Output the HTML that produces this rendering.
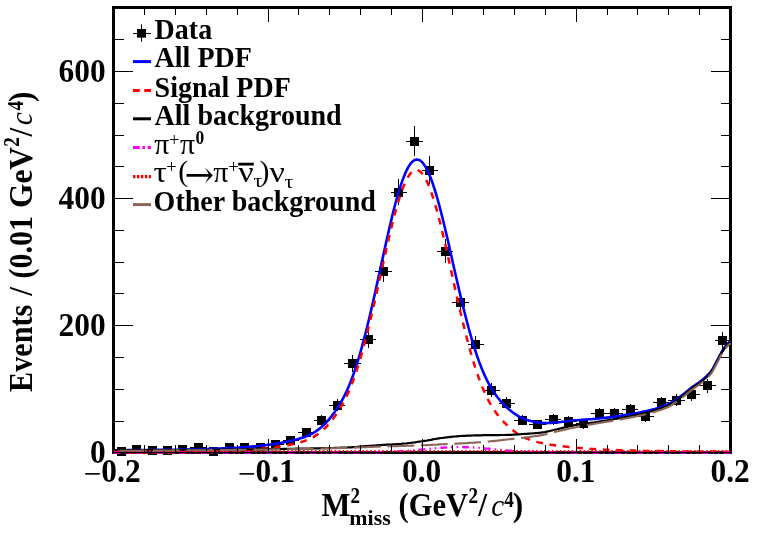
<!DOCTYPE html>
<html><head><meta charset="utf-8"><title>M2miss fit</title>
<style>html,body{margin:0;padding:0;background:#fff}svg{display:block}text{font-family:"Liberation Serif",serif;font-weight:bold;fill:#000}.sym{font-weight:normal}.arr{font-weight:normal;font-family:"DejaVu Serif","DejaVu Sans",serif}</style></head><body>
<svg width="762" height="533" viewBox="0 0 762 533">
<rect width="762" height="533" fill="#fff"/>
<rect x="113.5" y="7.5" width="617" height="445" fill="none" stroke="#000" stroke-width="3"/>
<defs><clipPath id="c"><rect x="112" y="6" width="620" height="448"/></clipPath></defs>
<g><path d="M113,451.5H129M121.5,450V453" stroke="#000" stroke-width="1" fill="none"/><rect x="117" y="447" width="9" height="9" fill="#000"/><path d="M128,449.5H145M136.5,447V451" stroke="#000" stroke-width="1" fill="none"/><rect x="132" y="445" width="9" height="9" fill="#000"/><path d="M144,450.5H160M152.5,449V452" stroke="#000" stroke-width="1" fill="none"/><rect x="148" y="446" width="9" height="9" fill="#000"/><path d="M159,450.5H176M167.5,449V452" stroke="#000" stroke-width="1" fill="none"/><rect x="163" y="446" width="9" height="9" fill="#000"/><path d="M175,449.5H191M182.5,447V451" stroke="#000" stroke-width="1" fill="none"/><rect x="178" y="445" width="9" height="9" fill="#000"/><path d="M190,447.5H207M198.5,446V450" stroke="#000" stroke-width="1" fill="none"/><rect x="194" y="443" width="9" height="9" fill="#000"/><path d="M206,451.5H222M213.5,450V453" stroke="#000" stroke-width="1" fill="none"/><rect x="209" y="447" width="9" height="9" fill="#000"/><path d="M221,447.5H237M229.5,445V450" stroke="#000" stroke-width="1" fill="none"/><rect x="225" y="443" width="9" height="9" fill="#000"/><path d="M236,447.5H253M244.5,445V450" stroke="#000" stroke-width="1" fill="none"/><rect x="240" y="443" width="9" height="9" fill="#000"/><path d="M252,447.5H268M260.5,445V450" stroke="#000" stroke-width="1" fill="none"/><rect x="256" y="443" width="9" height="9" fill="#000"/><path d="M267,444.5H284M275.5,442V448" stroke="#000" stroke-width="1" fill="none"/><rect x="271" y="440" width="9" height="9" fill="#000"/><path d="M283,440.5H299M290.5,437V444" stroke="#000" stroke-width="1" fill="none"/><rect x="286" y="436" width="9" height="9" fill="#000"/><path d="M298,432.5H315M306.5,428V436" stroke="#000" stroke-width="1" fill="none"/><rect x="302" y="428" width="9" height="9" fill="#000"/><path d="M314,420.5H330M321.5,415V425" stroke="#000" stroke-width="1" fill="none"/><rect x="317" y="416" width="9" height="9" fill="#000"/><path d="M329,405.5H345M337.5,399V411" stroke="#000" stroke-width="1" fill="none"/><rect x="333" y="401" width="9" height="9" fill="#000"/><path d="M344,363.5H361M352.5,355V372" stroke="#000" stroke-width="1" fill="none"/><rect x="348" y="359" width="9" height="9" fill="#000"/><path d="M360,339.5H376M368.5,330V348" stroke="#000" stroke-width="1" fill="none"/><rect x="364" y="335" width="9" height="9" fill="#000"/><path d="M375,271.5H392M383.5,260V282" stroke="#000" stroke-width="1" fill="none"/><rect x="379" y="267" width="9" height="9" fill="#000"/><path d="M391,192.5H407M398.5,179V205" stroke="#000" stroke-width="1" fill="none"/><rect x="394" y="188" width="9" height="9" fill="#000"/><path d="M406,141.5H423M414.5,126V156" stroke="#000" stroke-width="1" fill="none"/><rect x="410" y="137" width="9" height="9" fill="#000"/><path d="M422,170.5H438M429.5,156V184" stroke="#000" stroke-width="1" fill="none"/><rect x="425" y="166" width="9" height="9" fill="#000"/><path d="M437,251.5H453M445.5,239V263" stroke="#000" stroke-width="1" fill="none"/><rect x="441" y="247" width="9" height="9" fill="#000"/><path d="M452,302.5H469M460.5,292V313" stroke="#000" stroke-width="1" fill="none"/><rect x="456" y="298" width="9" height="9" fill="#000"/><path d="M468,344.5H484M475.5,336V353" stroke="#000" stroke-width="1" fill="none"/><rect x="471" y="340" width="9" height="9" fill="#000"/><path d="M483,390.5H500M491.5,383V397" stroke="#000" stroke-width="1" fill="none"/><rect x="487" y="386" width="9" height="9" fill="#000"/><path d="M499,403.5H515M506.5,397V409" stroke="#000" stroke-width="1" fill="none"/><rect x="502" y="399" width="9" height="9" fill="#000"/><path d="M514,420.5H530M522.5,415V425" stroke="#000" stroke-width="1" fill="none"/><rect x="518" y="416" width="9" height="9" fill="#000"/><path d="M529,424.5H546M537.5,420V429" stroke="#000" stroke-width="1" fill="none"/><rect x="533" y="420" width="9" height="9" fill="#000"/><path d="M545,419.5H561M553.5,414V425" stroke="#000" stroke-width="1" fill="none"/><rect x="549" y="415" width="9" height="9" fill="#000"/><path d="M560,421.5H577M568.5,416V426" stroke="#000" stroke-width="1" fill="none"/><rect x="564" y="417" width="9" height="9" fill="#000"/><path d="M576,423.5H592M583.5,419V429" stroke="#000" stroke-width="1" fill="none"/><rect x="579" y="419" width="9" height="9" fill="#000"/><path d="M591,413.5H608M599.5,408V419" stroke="#000" stroke-width="1" fill="none"/><rect x="595" y="409" width="9" height="9" fill="#000"/><path d="M607,413.5H623M614.5,408V419" stroke="#000" stroke-width="1" fill="none"/><rect x="610" y="409" width="9" height="9" fill="#000"/><path d="M622,409.5H638M630.5,404V415" stroke="#000" stroke-width="1" fill="none"/><rect x="626" y="405" width="9" height="9" fill="#000"/><path d="M637,416.5H654M645.5,411V422" stroke="#000" stroke-width="1" fill="none"/><rect x="641" y="412" width="9" height="9" fill="#000"/><path d="M653,402.5H669M661.5,397V409" stroke="#000" stroke-width="1" fill="none"/><rect x="657" y="398" width="9" height="9" fill="#000"/><path d="M668,400.5H685M676.5,394V406" stroke="#000" stroke-width="1" fill="none"/><rect x="672" y="396" width="9" height="9" fill="#000"/><path d="M684,394.5H700M691.5,388V401" stroke="#000" stroke-width="1" fill="none"/><rect x="687" y="390" width="9" height="9" fill="#000"/><path d="M699,385.5H716M707.5,379V393" stroke="#000" stroke-width="1" fill="none"/><rect x="703" y="381" width="9" height="9" fill="#000"/><path d="M715,340.5H731M722.5,332V349" stroke="#000" stroke-width="1" fill="none"/><rect x="718" y="336" width="9" height="9" fill="#000"/></g>
<g fill="none" stroke-linejoin="round" clip-path="url(#c)">
<path d="M113.5,450.2 L115.5,450.2 L117.5,450.2 L119.5,450.2 L121.5,450.2 L123.5,450.2 L125.5,450.2 L127.5,450.1 L129.5,450.1 L131.5,450.1 L133.5,450.1 L135.5,450.1 L137.5,450.1 L139.5,450.1 L141.5,450.1 L143.5,450.0 L145.4,450.0 L147.4,450.0 L149.4,450.0 L151.4,450.0 L153.4,450.0 L155.4,449.9 L157.4,449.9 L159.4,449.9 L161.4,449.9 L163.4,449.9 L165.4,449.8 L167.4,449.8 L169.4,449.8 L171.4,449.8 L173.4,449.7 L175.4,449.7 L177.4,449.7 L179.4,449.6 L181.4,449.6 L183.4,449.6 L185.4,449.5 L187.4,449.5 L189.4,449.5 L191.4,449.4 L193.4,449.4 L195.4,449.3 L197.4,449.3 L199.4,449.3 L201.4,449.2 L203.4,449.1 L205.4,449.1 L207.3,449.0 L209.3,449.0 L211.3,448.9 L213.3,448.8 L215.3,448.8 L217.3,448.7 L219.3,448.6 L221.3,448.5 L223.3,448.4 L225.3,448.3 L227.3,448.2 L229.3,448.1 L231.3,448.0 L233.3,447.9 L235.3,447.8 L237.3,447.7 L239.3,447.5 L241.3,447.4 L243.3,447.3 L245.3,447.1 L247.3,447.0 L249.3,446.8 L251.3,446.6 L253.3,446.4 L255.3,446.2 L257.3,446.0 L259.3,445.8 L261.3,445.6 L263.3,445.4 L265.3,445.2 L267.3,444.9 L269.2,444.6 L271.2,444.4 L273.2,444.1 L275.2,443.8 L277.2,443.5 L279.2,443.1 L281.2,442.8 L283.2,442.4 L285.2,442.1 L287.2,441.7 L289.2,441.3 L291.2,440.8 L293.2,440.3 L295.2,439.8 L297.2,439.3 L299.2,438.7 L301.2,438.1 L303.2,437.5 L305.2,436.7 L307.2,435.9 L309.2,435.0 L311.2,434.1 L313.2,433.0 L315.2,431.8 L317.2,430.4 L319.2,428.9 L321.2,427.3 L323.2,425.5 L325.2,423.5 L327.2,421.4 L329.2,419.1 L331.1,416.7 L333.1,414.1 L335.1,411.4 L337.1,408.4 L339.1,405.3 L341.1,401.9 L343.1,398.3 L345.1,394.4 L347.1,390.2 L349.1,385.6 L351.1,380.6 L353.1,375.3 L355.1,369.5 L357.1,363.4 L359.1,356.8 L361.1,349.9 L363.1,342.6 L365.1,334.9 L367.1,327.0 L369.1,318.7 L371.1,310.2 L373.1,301.5 L375.1,292.6 L377.1,283.5 L379.1,274.4 L381.1,265.3 L383.1,256.1 L385.1,247.1 L387.1,238.1 L389.1,229.4 L391.1,220.9 L393.0,212.8 L395.0,205.0 L397.0,197.7 L399.0,190.8 L401.0,184.6 L403.0,178.9 L405.0,173.9 L407.0,169.5 L409.0,165.9 L411.0,163.1 L413.0,161.1 L415.0,159.9 L417.0,159.5 L419.0,159.9 L421.0,161.2 L423.0,163.2 L425.0,166.0 L427.0,169.6 L429.0,173.9 L431.0,178.8 L433.0,184.3 L435.0,190.5 L437.0,197.2 L439.0,204.4 L441.0,212.0 L443.0,220.0 L445.0,228.3 L447.0,236.8 L449.0,245.4 L451.0,254.2 L452.9,263.0 L454.9,271.8 L456.9,280.5 L458.9,289.1 L460.9,297.5 L462.9,305.8 L464.9,313.8 L466.9,321.6 L468.9,329.0 L470.9,336.2 L472.9,343.0 L474.9,349.4 L476.9,355.5 L478.9,361.1 L480.9,366.4 L482.9,371.4 L484.9,375.9 L486.9,380.1 L488.9,384.0 L490.9,387.5 L492.9,390.7 L494.9,393.7 L496.9,396.4 L498.9,399.0 L500.9,401.3 L502.9,403.5 L504.9,405.6 L506.9,407.5 L508.9,409.3 L510.9,410.9 L512.9,412.5 L514.8,413.9 L516.8,415.2 L518.8,416.4 L520.8,417.4 L522.8,418.3 L524.8,419.2 L526.8,419.9 L528.8,420.5 L530.8,421.1 L532.8,421.6 L534.8,422.0 L536.8,422.4 L538.8,422.7 L540.8,422.9 L542.8,423.1 L544.8,423.1 L546.8,423.1 L548.8,423.0 L550.8,422.9 L552.8,422.7 L554.8,422.5 L556.8,422.3 L558.8,422.2 L560.8,422.0 L562.8,421.7 L564.8,421.5 L566.8,421.2 L568.8,421.0 L570.8,420.8 L572.8,420.5 L574.8,420.3 L576.7,420.2 L578.7,420.0 L580.7,419.9 L582.7,419.7 L584.7,419.6 L586.7,419.5 L588.7,419.3 L590.7,419.2 L592.7,419.0 L594.7,418.9 L596.7,418.7 L598.7,418.5 L600.7,418.3 L602.7,418.1 L604.7,417.8 L606.7,417.6 L608.7,417.4 L610.7,417.1 L612.7,416.9 L614.7,416.6 L616.7,416.3 L618.7,416.0 L620.7,415.7 L622.7,415.4 L624.7,415.1 L626.7,414.8 L628.7,414.5 L630.7,414.2 L632.7,413.8 L634.7,413.4 L636.7,413.1 L638.6,412.7 L640.6,412.3 L642.6,411.8 L644.6,411.4 L646.6,411.0 L648.6,410.5 L650.6,410.0 L652.6,409.5 L654.6,409.0 L656.6,408.4 L658.6,407.8 L660.6,407.2 L662.6,406.5 L664.6,405.8 L666.6,404.9 L668.6,404.0 L670.6,403.0 L672.6,401.9 L674.6,400.6 L676.6,399.2 L678.6,397.8 L680.6,396.3 L682.6,394.8 L684.6,393.2 L686.6,391.6 L688.6,390.0 L690.6,388.4 L692.6,386.9 L694.6,385.5 L696.6,384.1 L698.6,382.7 L700.5,381.2 L702.5,379.7 L704.5,378.0 L706.5,376.2 L708.5,374.3 L710.5,372.1 L712.5,369.2 L714.5,365.5 L716.5,361.6 L718.5,357.9 L720.5,354.1 L722.5,350.5 L724.5,347.5 L726.5,345.0 L728.5,342.9 L730.5,341.1" stroke="#0000ff" stroke-width="2.6"/>
<path d="M113.5,452.4 L115.5,452.4 L117.5,452.4 L119.5,452.4 L121.5,452.4 L123.5,452.4 L125.5,452.4 L127.5,452.4 L129.5,452.4 L131.5,452.4 L133.5,452.4 L135.5,452.4 L137.5,452.4 L139.5,452.4 L141.5,452.4 L143.5,452.4 L145.4,452.4 L147.4,452.4 L149.4,452.4 L151.4,452.4 L153.4,452.4 L155.4,452.3 L157.4,452.3 L159.4,452.3 L161.4,452.3 L163.4,452.3 L165.4,452.3 L167.4,452.3 L169.4,452.3 L171.4,452.3 L173.4,452.2 L175.4,452.2 L177.4,452.2 L179.4,452.2 L181.4,452.2 L183.4,452.1 L185.4,452.1 L187.4,452.1 L189.4,452.1 L191.4,452.0 L193.4,452.0 L195.4,452.0 L197.4,451.9 L199.4,451.9 L201.4,451.9 L203.4,451.8 L205.4,451.8 L207.3,451.7 L209.3,451.7 L211.3,451.6 L213.3,451.6 L215.3,451.5 L217.3,451.5 L219.3,451.4 L221.3,451.3 L223.3,451.3 L225.3,451.2 L227.3,451.1 L229.3,451.0 L231.3,450.9 L233.3,450.8 L235.3,450.7 L237.3,450.6 L239.3,450.5 L241.3,450.4 L243.3,450.3 L245.3,450.1 L247.3,450.0 L249.3,449.8 L251.3,449.7 L253.3,449.5 L255.3,449.4 L257.3,449.2 L259.3,449.0 L261.3,448.8 L263.3,448.6 L265.3,448.4 L267.3,448.2 L269.2,448.0 L271.2,447.7 L273.2,447.5 L275.2,447.2 L277.2,446.9 L279.2,446.6 L281.2,446.3 L283.2,446.0 L285.2,445.7 L287.2,445.3 L289.2,444.9 L291.2,444.5 L293.2,444.1 L295.2,443.6 L297.2,443.1 L299.2,442.6 L301.2,442.0 L303.2,441.4 L305.2,440.7 L307.2,439.9 L309.2,439.1 L311.2,438.1 L313.2,437.1 L315.2,435.9 L317.2,434.6 L319.2,433.2 L321.2,431.6 L323.2,429.8 L325.2,427.9 L327.2,425.8 L329.2,423.6 L331.1,421.2 L333.1,418.6 L335.1,415.9 L337.1,413.1 L339.1,410.0 L341.1,406.7 L343.1,403.2 L345.1,399.4 L347.1,395.2 L349.1,390.7 L351.1,385.9 L353.1,380.6 L355.1,375.0 L357.1,369.0 L359.1,362.6 L361.1,355.8 L363.1,348.7 L365.1,341.2 L367.1,333.4 L369.1,325.3 L371.1,316.9 L373.1,308.4 L375.1,299.6 L377.1,290.7 L379.1,281.7 L381.1,272.7 L383.1,263.7 L385.1,254.7 L387.1,245.9 L389.1,237.3 L391.1,228.9 L393.0,220.9 L395.0,213.2 L397.0,206.0 L399.0,199.3 L401.0,193.2 L403.0,187.7 L405.0,182.9 L407.0,178.8 L409.0,175.4 L411.0,172.8 L413.0,171.0 L415.0,170.1 L417.0,170.0 L419.0,170.7 L421.0,172.2 L423.0,174.6 L425.0,177.7 L427.0,181.6 L429.0,186.2 L431.0,191.5 L433.0,197.5 L435.0,204.0 L437.0,211.0 L439.0,218.5 L441.0,226.5 L443.0,234.7 L445.0,243.2 L447.0,252.0 L449.0,260.9 L451.0,269.8 L452.9,278.8 L454.9,287.8 L456.9,296.7 L458.9,305.4 L460.9,314.0 L462.9,322.4 L464.9,330.5 L466.9,338.4 L468.9,345.9 L470.9,353.1 L472.9,360.0 L474.9,366.5 L476.9,372.6 L478.9,378.3 L480.9,383.7 L482.9,388.6 L484.9,393.2 L486.9,397.4 L488.9,401.3 L490.9,404.9 L492.9,408.1 L494.9,411.1 L496.9,413.9 L498.9,416.4 L500.9,418.8 L502.9,421.0 L504.9,423.1 L506.9,425.0 L508.9,426.9 L510.9,428.7 L512.9,430.3 L514.8,431.8 L516.8,433.2 L518.8,434.5 L520.8,435.7 L522.8,436.8 L524.8,437.8 L526.8,438.6 L528.8,439.4 L530.8,440.1 L532.8,440.8 L534.8,441.3 L536.8,441.9 L538.8,442.4 L540.8,442.8 L542.8,443.2 L544.8,443.6 L546.8,444.0 L548.8,444.3 L550.8,444.7 L552.8,445.0 L554.8,445.3 L556.8,445.6 L558.8,445.8 L560.8,446.1 L562.8,446.3 L564.8,446.6 L566.8,446.8 L568.8,447.0 L570.8,447.2 L572.8,447.4 L574.8,447.6 L576.7,447.8 L578.7,448.0 L580.7,448.1 L582.7,448.3 L584.7,448.5 L586.7,448.6 L588.7,448.7 L590.7,448.9 L592.7,449.0 L594.7,449.1 L596.7,449.2 L598.7,449.3 L600.7,449.5 L602.7,449.6 L604.7,449.7 L606.7,449.7 L608.7,449.8 L610.7,449.9 L612.7,450.0 L614.7,450.1 L616.7,450.1 L618.7,450.2 L620.7,450.3 L622.7,450.3 L624.7,450.4 L626.7,450.4 L628.7,450.5 L630.7,450.6 L632.7,450.6 L634.7,450.6 L636.7,450.7 L638.6,450.7 L640.6,450.8 L642.6,450.8 L644.6,450.9 L646.6,450.9 L648.6,450.9 L650.6,451.0 L652.6,451.0 L654.6,451.0 L656.6,451.0 L658.6,451.1 L660.6,451.1 L662.6,451.1 L664.6,451.2 L666.6,451.2 L668.6,451.2 L670.6,451.2 L672.6,451.2 L674.6,451.3 L676.6,451.3 L678.6,451.3 L680.6,451.3 L682.6,451.4 L684.6,451.4 L686.6,451.4 L688.6,451.4 L690.6,451.4 L692.6,451.4 L694.6,451.5 L696.6,451.5 L698.6,451.5 L700.5,451.5 L702.5,451.5 L704.5,451.5 L706.5,451.6 L708.5,451.6 L710.5,451.6 L712.5,451.6 L714.5,451.6 L716.5,451.6 L718.5,451.7 L720.5,451.7 L722.5,451.7 L724.5,451.7 L726.5,451.7 L728.5,451.7 L730.5,451.7" stroke="#ff0000" stroke-width="2.5" stroke-dasharray="6.7 6.7"/>
<path d="M113.5,450.3 L115.5,450.3 L117.5,450.3 L119.5,450.3 L121.5,450.2 L123.5,450.2 L125.5,450.2 L127.5,450.2 L129.5,450.2 L131.5,450.2 L133.5,450.2 L135.5,450.2 L137.5,450.2 L139.5,450.2 L141.5,450.2 L143.5,450.1 L145.4,450.1 L147.4,450.1 L149.4,450.1 L151.4,450.1 L153.4,450.1 L155.4,450.1 L157.4,450.1 L159.4,450.1 L161.4,450.1 L163.4,450.0 L165.4,450.0 L167.4,450.0 L169.4,450.0 L171.4,450.0 L173.4,450.0 L175.4,450.0 L177.4,450.0 L179.4,450.0 L181.4,449.9 L183.4,449.9 L185.4,449.9 L187.4,449.9 L189.4,449.9 L191.4,449.9 L193.4,449.9 L195.4,449.9 L197.4,449.9 L199.4,449.8 L201.4,449.8 L203.4,449.8 L205.4,449.8 L207.3,449.8 L209.3,449.8 L211.3,449.8 L213.3,449.7 L215.3,449.7 L217.3,449.7 L219.3,449.7 L221.3,449.7 L223.3,449.7 L225.3,449.7 L227.3,449.6 L229.3,449.6 L231.3,449.6 L233.3,449.6 L235.3,449.6 L237.3,449.6 L239.3,449.5 L241.3,449.5 L243.3,449.5 L245.3,449.5 L247.3,449.5 L249.3,449.4 L251.3,449.4 L253.3,449.4 L255.3,449.4 L257.3,449.4 L259.3,449.3 L261.3,449.3 L263.3,449.3 L265.3,449.3 L267.3,449.2 L269.2,449.2 L271.2,449.2 L273.2,449.1 L275.2,449.1 L277.2,449.1 L279.2,449.0 L281.2,449.0 L283.2,448.9 L285.2,448.9 L287.2,448.9 L289.2,448.8 L291.2,448.8 L293.2,448.8 L295.2,448.7 L297.2,448.7 L299.2,448.7 L301.2,448.6 L303.2,448.6 L305.2,448.6 L307.2,448.5 L309.2,448.5 L311.2,448.4 L313.2,448.4 L315.2,448.4 L317.2,448.3 L319.2,448.3 L321.2,448.2 L323.2,448.2 L325.2,448.2 L327.2,448.1 L329.2,448.1 L331.1,448.0 L333.1,448.0 L335.1,447.9 L337.1,447.9 L339.1,447.8 L341.1,447.7 L343.1,447.7 L345.1,447.6 L347.1,447.5 L349.1,447.4 L351.1,447.3 L353.1,447.1 L355.1,447.0 L357.1,446.9 L359.1,446.7 L361.1,446.6 L363.1,446.4 L365.1,446.2 L367.1,446.1 L369.1,445.9 L371.1,445.8 L373.1,445.6 L375.1,445.5 L377.1,445.3 L379.1,445.2 L381.1,445.1 L383.1,444.9 L385.1,444.8 L387.1,444.7 L389.1,444.6 L391.1,444.5 L393.0,444.4 L395.0,444.3 L397.0,444.1 L399.0,444.0 L401.0,443.9 L403.0,443.7 L405.0,443.5 L407.0,443.3 L409.0,443.0 L411.0,442.8 L413.0,442.5 L415.0,442.3 L417.0,442.0 L419.0,441.7 L421.0,441.5 L423.0,441.2 L425.0,440.8 L427.0,440.5 L429.0,440.1 L431.0,439.8 L433.0,439.4 L435.0,439.0 L437.0,438.7 L439.0,438.3 L441.0,438.0 L443.0,437.8 L445.0,437.5 L447.0,437.3 L449.0,437.1 L451.0,436.9 L452.9,436.7 L454.9,436.5 L456.9,436.3 L458.9,436.1 L460.9,436.0 L462.9,435.9 L464.9,435.8 L466.9,435.7 L468.9,435.6 L470.9,435.6 L472.9,435.5 L474.9,435.4 L476.9,435.4 L478.9,435.3 L480.9,435.3 L482.9,435.2 L484.9,435.2 L486.9,435.2 L488.9,435.2 L490.9,435.1 L492.9,435.1 L494.9,435.1 L496.9,435.1 L498.9,435.1 L500.9,435.0 L502.9,435.0 L504.9,435.0 L506.9,434.9 L508.9,434.9 L510.9,434.8 L512.9,434.7 L514.8,434.6 L516.8,434.5 L518.8,434.3 L520.8,434.2 L522.8,434.0 L524.8,433.9 L526.8,433.8 L528.8,433.6 L530.8,433.5 L532.8,433.3 L534.8,433.2 L536.8,433.0 L538.8,432.8 L540.8,432.6 L542.8,432.3 L544.8,432.0 L546.8,431.6 L548.8,431.2 L550.8,430.7 L552.8,430.2 L554.8,429.7 L556.8,429.3 L558.8,428.8 L560.8,428.4 L562.8,427.9 L564.8,427.4 L566.8,426.9 L568.8,426.5 L570.8,426.0 L572.8,425.6 L574.8,425.2 L576.7,424.9 L578.7,424.5 L580.7,424.2 L582.7,423.9 L584.7,423.6 L586.7,423.4 L588.7,423.1 L590.7,422.8 L592.7,422.5 L594.7,422.3 L596.7,422.0 L598.7,421.7 L600.7,421.3 L602.7,421.0 L604.7,420.7 L606.7,420.4 L608.7,420.0 L610.7,419.7 L612.7,419.4 L614.7,419.0 L616.7,418.7 L618.7,418.3 L620.7,418.0 L622.7,417.6 L624.7,417.2 L626.7,416.9 L628.7,416.5 L630.7,416.1 L632.7,415.7 L634.7,415.3 L636.7,414.9 L638.6,414.4 L640.6,414.0 L642.6,413.5 L644.6,413.1 L646.6,412.6 L648.6,412.1 L650.6,411.5 L652.6,411.0 L654.6,410.4 L656.6,409.8 L658.6,409.2 L660.6,408.6 L662.6,407.9 L664.6,407.1 L666.6,406.3 L668.6,405.3 L670.6,404.3 L672.6,403.1 L674.6,401.8 L676.6,400.4 L678.6,399.0 L680.6,397.5 L682.6,395.9 L684.6,394.3 L686.6,392.7 L688.6,391.1 L690.6,389.5 L692.6,388.0 L694.6,386.5 L696.6,385.1 L698.6,383.7 L700.5,382.2 L702.5,380.6 L704.5,379.0 L706.5,377.2 L708.5,375.2 L710.5,373.0 L712.5,370.1 L714.5,366.4 L716.5,362.5 L718.5,358.8 L720.5,354.9 L722.5,351.3 L724.5,348.3 L726.5,345.8 L728.5,343.6 L730.5,341.9" stroke="#000" stroke-width="2.2"/>
<path d="M113.5,452.5 L115.5,452.5 L117.5,452.5 L119.5,452.5 L121.5,452.5 L123.5,452.5 L125.5,452.5 L127.5,452.5 L129.5,452.5 L131.5,452.5 L133.5,452.5 L135.5,452.5 L137.5,452.5 L139.5,452.5 L141.5,452.5 L143.5,452.5 L145.4,452.5 L147.4,452.5 L149.4,452.5 L151.4,452.5 L153.4,452.5 L155.4,452.5 L157.4,452.5 L159.4,452.5 L161.4,452.5 L163.4,452.5 L165.4,452.5 L167.4,452.5 L169.4,452.5 L171.4,452.5 L173.4,452.5 L175.4,452.5 L177.4,452.5 L179.4,452.5 L181.4,452.5 L183.4,452.5 L185.4,452.5 L187.4,452.5 L189.4,452.5 L191.4,452.5 L193.4,452.5 L195.4,452.5 L197.4,452.5 L199.4,452.5 L201.4,452.5 L203.4,452.5 L205.4,452.5 L207.3,452.5 L209.3,452.5 L211.3,452.5 L213.3,452.5 L215.3,452.5 L217.3,452.5 L219.3,452.5 L221.3,452.5 L223.3,452.5 L225.3,452.5 L227.3,452.5 L229.3,452.5 L231.3,452.5 L233.3,452.5 L235.3,452.5 L237.3,452.5 L239.3,452.5 L241.3,452.5 L243.3,452.5 L245.3,452.5 L247.3,452.5 L249.3,452.5 L251.3,452.5 L253.3,452.5 L255.3,452.5 L257.3,452.5 L259.3,452.5 L261.3,452.5 L263.3,452.5 L265.3,452.5 L267.3,452.5 L269.2,452.5 L271.2,452.5 L273.2,452.5 L275.2,452.5 L277.2,452.5 L279.2,452.5 L281.2,452.5 L283.2,452.5 L285.2,452.5 L287.2,452.5 L289.2,452.5 L291.2,452.5 L293.2,452.5 L295.2,452.5 L297.2,452.5 L299.2,452.5 L301.2,452.5 L303.2,452.5 L305.2,452.5 L307.2,452.5 L309.2,452.5 L311.2,452.5 L313.2,452.5 L315.2,452.5 L317.2,452.5 L319.2,452.5 L321.2,452.5 L323.2,452.5 L325.2,452.5 L327.2,452.5 L329.2,452.5 L331.1,452.5 L333.1,452.5 L335.1,452.5 L337.1,452.5 L339.1,452.5 L341.1,452.5 L343.1,452.5 L345.1,452.5 L347.1,452.5 L349.1,452.5 L351.1,452.5 L353.1,452.5 L355.1,452.5 L357.1,452.4 L359.1,452.4 L361.1,452.4 L363.1,452.4 L365.1,452.4 L367.1,452.4 L369.1,452.3 L371.1,452.3 L373.1,452.3 L375.1,452.2 L377.1,452.2 L379.1,452.2 L381.1,452.1 L383.1,452.1 L385.1,452.0 L387.1,451.9 L389.1,451.9 L391.1,451.8 L393.0,451.7 L395.0,451.6 L397.0,451.5 L399.0,451.4 L401.0,451.2 L403.0,451.1 L405.0,451.0 L407.0,450.8 L409.0,450.7 L411.0,450.5 L413.0,450.3 L415.0,450.2 L417.0,450.0 L419.0,449.8 L421.0,449.6 L423.0,449.4 L425.0,449.2 L427.0,449.0 L429.0,448.8 L431.0,448.7 L433.0,448.5 L435.0,448.3 L437.0,448.1 L439.0,448.0 L441.0,447.8 L443.0,447.7 L445.0,447.5 L447.0,447.4 L449.0,447.3 L451.0,447.2 L452.9,447.2 L454.9,447.1 L456.9,447.1 L458.9,447.1 L460.9,447.1 L462.9,447.1 L464.9,447.2 L466.9,447.2 L468.9,447.3 L470.9,447.4 L472.9,447.5 L474.9,447.7 L476.9,447.8 L478.9,447.9 L480.9,448.1 L482.9,448.3 L484.9,448.5 L486.9,448.6 L488.9,448.8 L490.9,449.0 L492.9,449.2 L494.9,449.4 L496.9,449.6 L498.9,449.8 L500.9,450.0 L502.9,450.2 L504.9,450.3 L506.9,450.5 L508.9,450.7 L510.9,450.8 L512.9,451.0 L514.8,451.1 L516.8,451.2 L518.8,451.4 L520.8,451.5 L522.8,451.6 L524.8,451.7 L526.8,451.8 L528.8,451.8 L530.8,451.9 L532.8,452.0 L534.8,452.1 L536.8,452.1 L538.8,452.2 L540.8,452.2 L542.8,452.2 L544.8,452.3 L546.8,452.3 L548.8,452.3 L550.8,452.4 L552.8,452.4 L554.8,452.4 L556.8,452.4 L558.8,452.4 L560.8,452.4 L562.8,452.4 L564.8,452.5 L566.8,452.5 L568.8,452.5 L570.8,452.5 L572.8,452.5 L574.8,452.5 L576.7,452.5 L578.7,452.5 L580.7,452.5 L582.7,452.5 L584.7,452.5 L586.7,452.5 L588.7,452.5 L590.7,452.5 L592.7,452.5 L594.7,452.5 L596.7,452.5 L598.7,452.5 L600.7,452.5 L602.7,452.5 L604.7,452.5 L606.7,452.5 L608.7,452.5 L610.7,452.5 L612.7,452.5 L614.7,452.5 L616.7,452.5 L618.7,452.5 L620.7,452.5 L622.7,452.5 L624.7,452.5 L626.7,452.5 L628.7,452.5 L630.7,452.5 L632.7,452.5 L634.7,452.5 L636.7,452.5 L638.6,452.5 L640.6,452.5 L642.6,452.5 L644.6,452.5 L646.6,452.5 L648.6,452.5 L650.6,452.5 L652.6,452.5 L654.6,452.5 L656.6,452.5 L658.6,452.5 L660.6,452.5 L662.6,452.5 L664.6,452.5 L666.6,452.5 L668.6,452.5 L670.6,452.5 L672.6,452.5 L674.6,452.5 L676.6,452.5 L678.6,452.5 L680.6,452.5 L682.6,452.5 L684.6,452.5 L686.6,452.5 L688.6,452.5 L690.6,452.5 L692.6,452.5 L694.6,452.5 L696.6,452.5 L698.6,452.5 L700.5,452.5 L702.5,452.5 L704.5,452.5 L706.5,452.5 L708.5,452.5 L710.5,452.5 L712.5,452.5 L714.5,452.5 L716.5,452.5 L718.5,452.5 L720.5,452.5 L722.5,452.5 L724.5,452.5 L726.5,452.5 L728.5,452.5 L730.5,452.5" stroke="#ff00ff" stroke-width="2.4" stroke-dasharray="6.8 4 1.5 4 1.5 4"/>
<path d="M113.5,451.0 L115.5,451.0 L117.5,451.0 L119.5,451.0 L121.5,451.0 L123.5,451.0 L125.5,451.0 L127.5,451.0 L129.5,451.0 L131.5,451.0 L133.5,451.0 L135.5,451.0 L137.5,451.0 L139.5,451.0 L141.5,451.0 L143.5,451.0 L145.4,451.0 L147.4,451.0 L149.4,451.0 L151.4,451.0 L153.4,451.0 L155.4,451.0 L157.4,451.0 L159.4,451.0 L161.4,451.0 L163.4,451.0 L165.4,451.0 L167.4,451.0 L169.4,451.0 L171.4,451.0 L173.4,451.0 L175.4,451.0 L177.4,451.0 L179.4,451.0 L181.4,451.0 L183.4,451.0 L185.4,451.0 L187.4,451.0 L189.4,451.0 L191.4,451.0 L193.4,451.0 L195.4,451.0 L197.4,451.0 L199.4,451.0 L201.4,451.0 L203.4,451.0 L205.4,451.0 L207.3,451.0 L209.3,451.0 L211.3,451.0 L213.3,451.0 L215.3,451.0 L217.3,451.0 L219.3,451.0 L221.3,451.0 L223.3,451.0 L225.3,451.0 L227.3,451.0 L229.3,451.0 L231.3,451.0 L233.3,451.0 L235.3,451.0 L237.3,451.0 L239.3,451.0 L241.3,451.0 L243.3,451.0 L245.3,451.0 L247.3,451.0 L249.3,451.0 L251.3,451.0 L253.3,451.0 L255.3,451.0 L257.3,451.0 L259.3,451.0 L261.3,451.0 L263.3,451.0 L265.3,451.0 L267.3,451.0 L269.2,451.0 L271.2,451.0 L273.2,451.0 L275.2,451.0 L277.2,451.0 L279.2,451.0 L281.2,451.0 L283.2,451.0 L285.2,451.0 L287.2,451.0 L289.2,451.0 L291.2,451.0 L293.2,451.0 L295.2,451.0 L297.2,451.0 L299.2,451.0 L301.2,451.0 L303.2,451.0 L305.2,451.0 L307.2,451.0 L309.2,451.0 L311.2,451.0 L313.2,451.0 L315.2,451.0 L317.2,451.0 L319.2,451.0 L321.2,451.0 L323.2,451.0 L325.2,451.0 L327.2,451.0 L329.2,451.0 L331.1,451.0 L333.1,451.0 L335.1,451.0 L337.1,451.0 L339.1,451.0 L341.1,451.0 L343.1,451.0 L345.1,451.0 L347.1,451.0 L349.1,451.0 L351.1,451.0 L353.1,451.0 L355.1,451.0 L357.1,451.0 L359.1,451.0 L361.1,451.0 L363.1,451.0 L365.1,451.0 L367.1,451.0 L369.1,451.0 L371.1,451.0 L373.1,451.0 L375.1,451.0 L377.1,451.0 L379.1,451.0 L381.1,451.0 L383.1,451.0 L385.1,451.0 L387.1,451.0 L389.1,451.0 L391.1,451.0 L393.0,451.0 L395.0,451.0 L397.0,451.0 L399.0,451.0 L401.0,451.0 L403.0,451.0 L405.0,451.0 L407.0,451.0 L409.0,451.0 L411.0,451.0 L413.0,451.0 L415.0,451.0 L417.0,451.0 L419.0,451.0 L421.0,451.0 L423.0,451.0 L425.0,451.0 L427.0,451.0 L429.0,451.0 L431.0,451.0 L433.0,451.0 L435.0,451.0 L437.0,451.0 L439.0,451.0 L441.0,451.0 L443.0,451.0 L445.0,451.0 L447.0,451.0 L449.0,451.0 L451.0,451.0 L452.9,451.0 L454.9,451.0 L456.9,451.0 L458.9,451.0 L460.9,451.0 L462.9,451.0 L464.9,451.0 L466.9,451.0 L468.9,451.0 L470.9,451.0 L472.9,451.0 L474.9,451.0 L476.9,451.0 L478.9,451.0 L480.9,451.0 L482.9,451.0 L484.9,451.0 L486.9,451.0 L488.9,451.0 L490.9,451.0 L492.9,451.0 L494.9,451.0 L496.9,451.0 L498.9,451.0 L500.9,451.0 L502.9,451.0 L504.9,451.0 L506.9,451.0 L508.9,451.0 L510.9,451.0 L512.9,451.0 L514.8,451.0 L516.8,451.0 L518.8,451.0 L520.8,451.0 L522.8,451.0 L524.8,451.0 L526.8,451.0 L528.8,451.0 L530.8,451.0 L532.8,451.0 L534.8,451.0 L536.8,451.0 L538.8,451.0 L540.8,451.0 L542.8,451.0 L544.8,451.0 L546.8,451.0 L548.8,451.0 L550.8,451.0 L552.8,451.0 L554.8,451.0 L556.8,451.0 L558.8,451.0 L560.8,451.0 L562.8,451.0 L564.8,451.0 L566.8,451.0 L568.8,451.0 L570.8,451.0 L572.8,451.0 L574.8,451.0 L576.7,451.0 L578.7,451.0 L580.7,451.0 L582.7,451.0 L584.7,451.0 L586.7,451.0 L588.7,451.0 L590.7,451.0 L592.7,451.0 L594.7,451.0 L596.7,451.0 L598.7,451.0 L600.7,451.0 L602.7,451.0 L604.7,451.0 L606.7,451.0 L608.7,451.0 L610.7,451.0 L612.7,451.0 L614.7,451.0 L616.7,451.0 L618.7,451.0 L620.7,451.0 L622.7,451.0 L624.7,451.0 L626.7,451.0 L628.7,451.0 L630.7,451.0 L632.7,451.0 L634.7,451.0 L636.7,451.0 L638.6,451.0 L640.6,451.0 L642.6,451.0 L644.6,451.0 L646.6,451.0 L648.6,451.0 L650.6,451.0 L652.6,451.0 L654.6,451.0 L656.6,451.0 L658.6,451.0 L660.6,451.0 L662.6,451.0 L664.6,451.0 L666.6,451.0 L668.6,451.0 L670.6,451.0 L672.6,451.0 L674.6,451.0 L676.6,451.0 L678.6,451.0 L680.6,451.0 L682.6,451.0 L684.6,451.0 L686.6,451.0 L688.6,451.0 L690.6,451.0 L692.6,451.0 L694.6,451.0 L696.6,451.0 L698.6,451.0 L700.5,451.0 L702.5,451.0 L704.5,451.0 L706.5,451.0 L708.5,451.0 L710.5,451.0 L712.5,451.0 L714.5,451.0 L716.5,451.0 L718.5,451.0 L720.5,451.0 L722.5,451.0 L724.5,451.0 L726.5,451.0 L728.5,451.0 L730.5,451.0" stroke="#ff0000" stroke-width="1.8" stroke-dasharray="1.5 2.45"/>
<path d="M113.5,450.8 L115.5,450.8 L117.5,450.8 L119.5,450.8 L121.5,450.8 L123.5,450.7 L125.5,450.7 L127.5,450.7 L129.5,450.7 L131.5,450.7 L133.5,450.7 L135.5,450.7 L137.5,450.7 L139.5,450.7 L141.5,450.6 L143.5,450.6 L145.4,450.6 L147.4,450.6 L149.4,450.6 L151.4,450.6 L153.4,450.6 L155.4,450.6 L157.4,450.6 L159.4,450.5 L161.4,450.5 L163.4,450.5 L165.4,450.5 L167.4,450.5 L169.4,450.5 L171.4,450.5 L173.4,450.4 L175.4,450.4 L177.4,450.4 L179.4,450.4 L181.4,450.4 L183.4,450.4 L185.4,450.4 L187.4,450.3 L189.4,450.3 L191.4,450.3 L193.4,450.3 L195.4,450.3 L197.4,450.3 L199.4,450.2 L201.4,450.2 L203.4,450.2 L205.4,450.2 L207.3,450.2 L209.3,450.2 L211.3,450.1 L213.3,450.1 L215.3,450.1 L217.3,450.1 L219.3,450.1 L221.3,450.0 L223.3,450.0 L225.3,450.0 L227.3,450.0 L229.3,450.0 L231.3,450.0 L233.3,449.9 L235.3,449.9 L237.3,449.9 L239.3,449.9 L241.3,449.9 L243.3,449.8 L245.3,449.8 L247.3,449.8 L249.3,449.8 L251.3,449.7 L253.3,449.7 L255.3,449.7 L257.3,449.7 L259.3,449.6 L261.3,449.6 L263.3,449.6 L265.3,449.6 L267.3,449.5 L269.2,449.5 L271.2,449.5 L273.2,449.4 L275.2,449.4 L277.2,449.4 L279.2,449.3 L281.2,449.3 L283.2,449.3 L285.2,449.2 L287.2,449.2 L289.2,449.2 L291.2,449.1 L293.2,449.1 L295.2,449.1 L297.2,449.0 L299.2,449.0 L301.2,449.0 L303.2,448.9 L305.2,448.9 L307.2,448.8 L309.2,448.8 L311.2,448.8 L313.2,448.7 L315.2,448.7 L317.2,448.6 L319.2,448.6 L321.2,448.5 L323.2,448.5 L325.2,448.4 L327.2,448.4 L329.2,448.4 L331.1,448.3 L333.1,448.3 L335.1,448.2 L337.1,448.1 L339.1,448.1 L341.1,448.0 L343.1,448.0 L345.1,447.9 L347.1,447.9 L349.1,447.8 L351.1,447.7 L353.1,447.7 L355.1,447.6 L357.1,447.5 L359.1,447.4 L361.1,447.4 L363.1,447.3 L365.1,447.2 L367.1,447.1 L369.1,447.0 L371.1,447.0 L373.1,446.9 L375.1,446.8 L377.1,446.7 L379.1,446.6 L381.1,446.6 L383.1,446.5 L385.1,446.4 L387.1,446.4 L389.1,446.3 L391.1,446.2 L393.0,446.2 L395.0,446.1 L397.0,446.1 L399.0,446.0 L401.0,446.0 L403.0,445.9 L405.0,445.9 L407.0,445.8 L409.0,445.7 L411.0,445.7 L413.0,445.6 L415.0,445.6 L417.0,445.5 L419.0,445.4 L421.0,445.4 L423.0,445.3 L425.0,445.2 L427.0,445.1 L429.0,445.0 L431.0,444.9 L433.0,444.8 L435.0,444.7 L437.0,444.6 L439.0,444.4 L441.0,444.3 L443.0,444.2 L445.0,444.1 L447.0,444.0 L449.0,444.0 L451.0,443.9 L452.9,443.8 L454.9,443.7 L456.9,443.6 L458.9,443.5 L460.9,443.4 L462.9,443.3 L464.9,443.2 L466.9,443.1 L468.9,442.9 L470.9,442.8 L472.9,442.7 L474.9,442.6 L476.9,442.5 L478.9,442.3 L480.9,442.2 L482.9,442.0 L484.9,441.9 L486.9,441.7 L488.9,441.5 L490.9,441.3 L492.9,441.1 L494.9,440.9 L496.9,440.7 L498.9,440.4 L500.9,440.2 L502.9,439.9 L504.9,439.7 L506.9,439.5 L508.9,439.3 L510.9,439.1 L512.9,438.9 L514.8,438.7 L516.8,438.5 L518.8,438.3 L520.8,438.0 L522.8,437.8 L524.8,437.6 L526.8,437.3 L528.8,437.1 L530.8,436.8 L532.8,436.5 L534.8,436.2 L536.8,435.9 L538.8,435.6 L540.8,435.2 L542.8,434.9 L544.8,434.4 L546.8,434.0 L548.8,433.5 L550.8,433.0 L552.8,432.4 L554.8,431.9 L556.8,431.5 L558.8,431.0 L560.8,430.5 L562.8,430.1 L564.8,429.6 L566.8,429.2 L568.8,428.7 L570.8,428.3 L572.8,427.9 L574.8,427.4 L576.7,427.0 L578.7,426.6 L580.7,426.3 L582.7,425.9 L584.7,425.5 L586.7,425.2 L588.7,424.8 L590.7,424.4 L592.7,424.1 L594.7,423.7 L596.7,423.4 L598.7,423.0 L600.7,422.7 L602.7,422.4 L604.7,422.0 L606.7,421.7 L608.7,421.4 L610.7,421.1 L612.7,420.7 L614.7,420.4 L616.7,420.1 L618.7,419.7 L620.7,419.4 L622.7,419.0 L624.7,418.6 L626.7,418.3 L628.7,417.9 L630.7,417.5 L632.7,417.1 L634.7,416.7 L636.7,416.3 L638.6,415.8 L640.6,415.4 L642.6,414.9 L644.6,414.5 L646.6,414.0 L648.6,413.5 L650.6,412.9 L652.6,412.4 L654.6,411.8 L656.6,411.2 L658.6,410.6 L660.6,410.0 L662.6,409.3 L664.6,408.5 L666.6,407.7 L668.6,406.7 L670.6,405.7 L672.6,404.5 L674.6,403.2 L676.6,401.8 L678.6,400.4 L680.6,398.9 L682.6,397.3 L684.6,395.7 L686.6,394.1 L688.6,392.5 L690.6,390.9 L692.6,389.4 L694.6,387.9 L696.6,386.5 L698.6,385.1 L700.5,383.6 L702.5,382.0 L704.5,380.3 L706.5,378.6 L708.5,376.6 L710.5,374.4 L712.5,371.5 L714.5,367.8 L716.5,363.9 L718.5,360.2 L720.5,356.3 L722.5,352.7 L724.5,349.7 L726.5,347.2 L728.5,345.0 L730.5,343.3" stroke="#8b6658" stroke-width="2.1" stroke-dasharray="26.8 6.7" stroke-dashoffset="-6"/>
</g>
<path d="M112,452.5H732M113.50,453V439M113.50,7V22M144.50,453V445M144.50,7V15M175.50,453V445M175.50,7V15M206.50,453V445M206.50,7V15M237.50,453V445M237.50,7V15M268.50,453V439M268.50,7V22M298.50,453V445M298.50,7V15M329.50,453V445M329.50,7V15M360.50,453V445M360.50,7V15M391.50,453V445M391.50,7V15M422.50,453V439M422.50,7V22M452.50,453V445M452.50,7V15M483.50,453V445M483.50,7V15M514.50,453V445M514.50,7V15M545.50,453V445M545.50,7V15M576.50,453V439M576.50,7V22M607.50,453V445M607.50,7V15M637.50,453V445M637.50,7V15M668.50,453V445M668.50,7V15M699.50,453V445M699.50,7V15M730.50,453V439M730.50,7V22M113,452.50H133M731,452.50H711M113,421.50H124M731,421.50H721M113,389.50H124M731,389.50H721M113,357.50H124M731,357.50H721M113,325.50H133M731,325.50H711M113,293.50H124M731,293.50H721M113,262.50H124M731,262.50H721M113,230.50H124M731,230.50H721M113,198.50H133M731,198.50H711M113,166.50H124M731,166.50H721M113,135.50H124M731,135.50H721M113,103.50H124M731,103.50H721M113,71.50H133M731,71.50H711M113,39.50H124M731,39.50H721" stroke="#000" stroke-width="1" fill="none"/>
<text transform="translate(105.60,463.10) scale(0.943,1)" font-size="33.3" text-anchor="end">0</text>
<text transform="translate(105.60,335.96) scale(0.943,1)" font-size="33.3" text-anchor="end">200</text>
<text transform="translate(105.60,208.82) scale(0.943,1)" font-size="33.3" text-anchor="end">400</text>
<text transform="translate(105.60,81.67) scale(0.943,1)" font-size="33.3" text-anchor="end">600</text>
<text transform="translate(112.10,481.80) scale(0.943,1)" font-size="33.3" text-anchor="middle"><tspan dy="2.8" style="font-weight:normal">−</tspan><tspan dy="-2.8">0.2</tspan></text>
<text transform="translate(266.35,481.80) scale(0.943,1)" font-size="33.3" text-anchor="middle"><tspan dy="2.8" style="font-weight:normal">−</tspan><tspan dy="-2.8">0.1</tspan></text>
<text transform="translate(421.60,481.80) scale(0.943,1)" font-size="33.3" text-anchor="middle">0.0</text>
<text transform="translate(575.85,481.80) scale(0.943,1)" font-size="33.3" text-anchor="middle">0.1</text>
<text transform="translate(730.10,481.80) scale(0.943,1)" font-size="33.3" text-anchor="middle">0.2</text>
<text transform="translate(321.40,516.00) scale(0.92,1)" font-size="33.3">M</text>
<text transform="translate(350.50,502.80) scale(0.85,1)" font-size="22.5">2</text>
<text transform="translate(349.30,525.00) scale(1.014,1)" font-size="21.6">miss</text>
<text transform="translate(398.60,516.00) scale(0.917,1)" font-size="33.3">(GeV</text>
<text transform="translate(468.40,502.70) scale(0.85,1)" font-size="22.5">2</text>
<text transform="translate(478.30,516.00) scale(0.943,1)" font-size="33.3">/</text>
<text transform="translate(491.20,516.00) scale(0.943,1)" font-size="31" style="font-weight:normal;font-style:italic">c</text>
<text transform="translate(504.30,506.50) scale(0.85,1)" font-size="22.5">4</text>
<text transform="translate(512.80,516.00) scale(0.943,1)" font-size="33.3">)</text>
<g transform="translate(32,391) rotate(-90)">
<text transform="translate(-1.00,0.00) scale(0.908,1)" font-size="33.3">Events</text>
<text transform="translate(95.30,0.00) scale(0.943,1)" font-size="33.3">/</text>
<text transform="translate(112.50,0.00) scale(0.9,1)" font-size="33.3">(0.01</text>
<text transform="translate(183.00,0.00) scale(0.943,1)" font-size="33.3">GeV</text>
<text transform="translate(244.20,-12.70) scale(0.85,1)" font-size="22.5">2</text>
<text transform="translate(254.60,0.00) scale(0.943,1)" font-size="33.3">/</text>
<text transform="translate(265.80,0.00) scale(0.943,1)" font-size="31" style="font-weight:normal;font-style:italic">c</text>
<text transform="translate(280.60,-9.50) scale(0.85,1)" font-size="22.5">4</text>
<text transform="translate(288.90,0.00) scale(0.943,1)" font-size="33.3">)</text>
</g>
<path d="M133,33.5H151M141.5,24.3V41.8" stroke="#000" stroke-width="1"/><rect x="137" y="29" width="9" height="8.6" fill="#000"/>
<path d="M133,61.6H151" stroke="#0000ff" stroke-width="3"/>
<path d="M133,90.6H151" stroke="#ff0000" stroke-width="3" stroke-dasharray="6.8 4.4"/>
<path d="M133,118.8H151" stroke="#000" stroke-width="3"/>
<path d="M133,147.4H151" stroke="#ff00ff" stroke-width="3" stroke-dasharray="6.8 2.6 2.6 2.6 3.4 9"/>
<path d="M133,176.6H151" stroke="#ff0000" stroke-width="3.2" stroke-dasharray="2.4 1.55"/>
<path d="M133,204.6H151" stroke="#8b6658" stroke-width="3"/>
<text transform="translate(154.60,38.70) scale(0.943,1)" font-size="29.7">Data</text>
<text transform="translate(154.60,67.35) scale(0.943,1)" font-size="29.7">All PDF</text>
<text transform="translate(154.60,96.60) scale(0.943,1)" font-size="29.7">Signal PDF</text>
<text transform="translate(154.60,124.65) scale(0.943,1)" font-size="29.7">All background</text>
<text transform="translate(153.60,210.60) scale(0.943,1)" font-size="29.7">Other background</text>
<text transform="translate(154.30,153.50) scale(1.03,1)" font-size="29" class="sym">π</text>
<text transform="translate(169.00,145.90) scale(1.0,1)" font-size="18.5" class="sym">+</text>
<text transform="translate(180.00,153.50) scale(1.03,1)" font-size="29" class="sym">π</text>
<text transform="translate(195.60,143.80) scale(0.943,1)" font-size="18.5">0</text>
<text transform="translate(153.60,182.00) scale(1.12,1)" font-size="29.5" class="sym">τ</text>
<text transform="translate(166.20,172.60) scale(1.0,1)" font-size="18.5" class="sym">+</text>
<text transform="translate(178.20,180.80) scale(1.0,1)" font-size="29.7" class="sym">(</text>
<text transform="translate(184.60,186.70) scale(0.98,1)" font-size="36" class="arr">→</text>
<text transform="translate(213.20,182.00) scale(1.03,1)" font-size="29" class="sym">π</text>
<text transform="translate(228.20,172.60) scale(1.0,1)" font-size="18.5" class="sym">+</text>
<text transform="translate(238.20,182.00) scale(1.15,1)" font-size="29.5" class="sym">ν</text>
<path d="M238.2,164.15H253.8" stroke="#000" stroke-width="2.8"/>
<text transform="translate(253.60,187.20) scale(1.2,1)" font-size="18.5" class="sym">τ</text>
<text transform="translate(259.40,181.00) scale(1.0,1)" font-size="29.7" class="sym">)</text>
<text transform="translate(269.60,182.00) scale(1.15,1)" font-size="29.5" class="sym">ν</text>
<text transform="translate(284.50,187.60) scale(1.2,1)" font-size="18.5" class="sym">τ</text>
</svg></body></html>
